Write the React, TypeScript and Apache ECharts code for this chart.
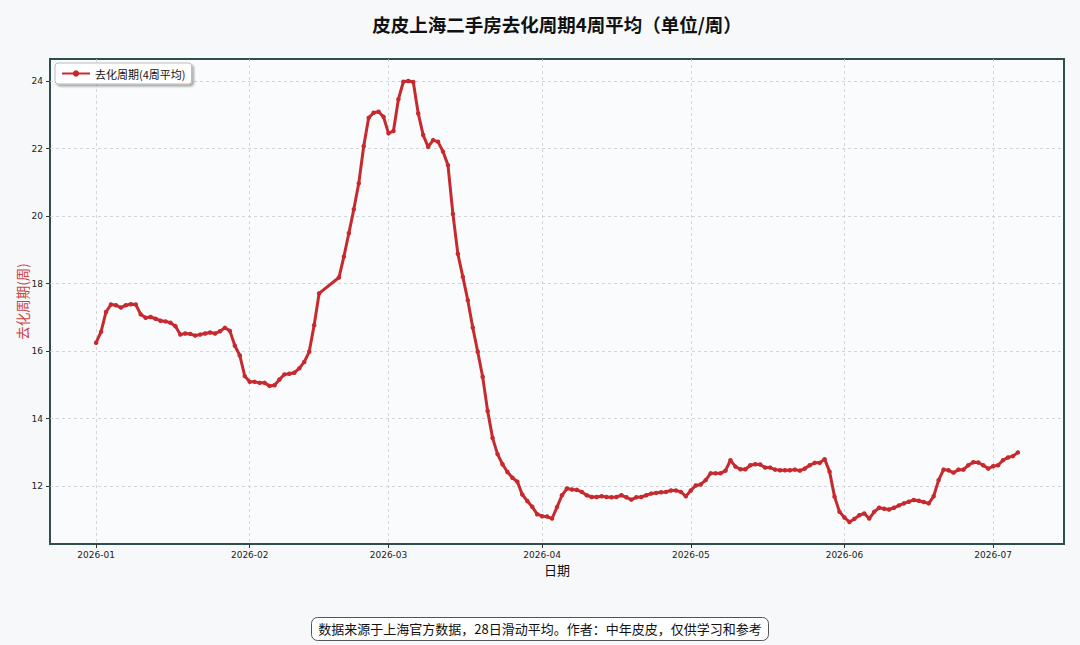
import React, { useEffect, useRef } from "react";
import * as echarts from "echarts";

const START_YEAR = 2026;
const START_MONTH = 0; // January
const START_DAY = 1;

// 4-week average digestion cycle (weeks), one value per day from 2026-01-01; null = no data
const values: (number | null)[] = [
  16.25, 16.57, 17.16, 17.38, 17.36, 17.29, 17.36, 17.39, 17.38, 17.09,
  16.99, 17.01, 16.96, 16.90, 16.88, 16.84, 16.74, 16.49, 16.52, 16.51,
  16.46, 16.49, 16.52, 16.55, 16.52, 16.59, 16.69, 16.60, 16.16, 15.87,
  15.26, 15.09, 15.09, 15.06, 15.06, 14.97, 14.99, 15.16, 15.31, 15.33,
  15.36, 15.49, 15.68, 15.98, 16.77, 17.71, null, null, null, 18.18,
  18.80, 19.49, 20.20, 20.97, 22.07, 22.91, 23.06, 23.09, 22.94, 22.45,
  22.52, 23.46, 23.98, 24.00, 23.97, 23.04, 22.40, 22.05, 22.25, 22.20,
  21.91, 21.51, 20.06, 18.88, 18.20, 17.51, 16.70, 15.98, 15.24, 14.23,
  13.43, 12.95, 12.65, 12.42, 12.25, 12.13, 11.75, 11.56, 11.39, 11.17,
  11.11, 11.10, 11.04, 11.38, 11.73, 11.93, 11.90, 11.89, 11.83, 11.73,
  11.68, 11.68, 11.70, 11.68, 11.67, 11.68, 11.73, 11.67, 11.60, 11.67,
  11.68, 11.73, 11.78, 11.80, 11.82, 11.83, 11.87, 11.87, 11.83, 11.70,
  11.87, 12.02, 12.05, 12.18, 12.38, 12.38, 12.38, 12.46, 12.77, 12.58,
  12.50, 12.50, 12.62, 12.65, 12.64, 12.55, 12.55, 12.49, 12.47, 12.47,
  12.47, 12.49, 12.46, 12.52, 12.62, 12.69, 12.69, 12.80, 12.43, 11.69,
  11.24, 11.07, 10.94, 11.03, 11.14, 11.19, 11.04, 11.24, 11.36, 11.33,
  11.31, 11.36, 11.43, 11.49, 11.54, 11.59, 11.57, 11.53, 11.49, 11.70,
  12.18, 12.49, 12.47, 12.40, 12.49, 12.49, 12.62, 12.71, 12.70, 12.62,
  12.52, 12.59, 12.62, 12.77, 12.85, 12.89, 13.00,
];

const seriesName = "去化周期(4周平均)";
const titleText = "皮皮上海二手房去化周期4周平均（单位/周）";
const footerText = "数据来源于上海官方数据，28日滑动平均。作者：中年皮皮，仅供学习和参考";
const xAxisName = "日期";
const yAxisName = "去化周期(周)";

const DAY = 86400000;
const FONT = "'DejaVu Sans', 'Noto Sans CJK SC', sans-serif";
const CJK = "'Noto Sans CJK SC', sans-serif";

export default function App() {
  const ref = useRef<HTMLDivElement>(null);

  useEffect(() => {
    if (!ref.current) return;
    const chart = echarts.init(ref.current, undefined, { renderer: "svg" });
    const t0 = new Date(START_YEAR, START_MONTH, START_DAY).getTime();
    const data: [number, number][] = [];
    values.forEach((v, i) => {
      if (v !== null) data.push([new Date(START_YEAR, START_MONTH, START_DAY + i).getTime(), v]);
    });
    const lastIdx = values.length - 1;
    const span = lastIdx * DAY;
    const xMin = t0 - span * 0.05;
    const xMax = t0 + span * 1.05;
    const nums = values.filter((v): v is number => v !== null);
    const vMin = Math.min(...nums);
    const vMax = Math.max(...nums);
    const yPad = (vMax - vMin) * 0.05;

    const gridLine = { color: "#c8cdd2", type: [3, 3], width: 0.8 };

    chart.setOption({
      animation: false,
      backgroundColor: "#f6f8f9",
      textStyle: { fontFamily: FONT },
      title: [
        {
          text: titleText,
          left: 552,
          top: 10,
          textAlign: "center",
          textStyle: { fontSize: 18.5, fontWeight: "bold", color: "#111", fontFamily: CJK },
        },
        {
          text: footerText,
          left: "center",
          top: 617,
          padding: [5, 7, 6, 7],
          backgroundColor: "#ffffff",
          borderColor: "#555",
          borderWidth: 1,
          borderRadius: 6,
          textStyle: { fontSize: 13, fontWeight: "normal", color: "#111", fontFamily: CJK },
        },
      ],
      legend: {
        left: 55,
        top: 63,
        padding: [5, 6, 5, 6],
        itemWidth: 28,
        itemHeight: 8,
        itemGap: 6,
        backgroundColor: "#ffffff",
        borderColor: "#bbbbbb",
        borderWidth: 1,
        borderRadius: 3,
        shadowColor: "rgba(0,0,0,0.35)",
        shadowBlur: 2,
        shadowOffsetX: 2,
        shadowOffsetY: 2,
        textStyle: { fontSize: 11, color: "#111", fontFamily: CJK },
        data: [seriesName],
      },
      grid: {
        left: 50,
        right: 16,
        top: 59,
        bottom: 101,
        containLabel: false,
        show: true,
        backgroundColor: "#fafbfc",
        borderColor: "#2f4f4f",
        borderWidth: 2,
      },
      xAxis: {
        type: "time",
        min: xMin,
        max: xMax,
        splitNumber: 6,
        minInterval: 28 * DAY,
        name: xAxisName,
        nameLocation: "middle",
        nameGap: 19,
        nameMoveOverlap: false,
        nameTextStyle: { fontSize: 13, color: "#111", fontFamily: CJK },
        axisLine: { show: false },
        axisTick: { show: true, length: 4, lineStyle: { color: "#333" } },
        axisLabel: {
          fontSize: 9,
          color: "#222",
          margin: 6,
          showMinLabel: false,
          showMaxLabel: false,
          formatter: (val: number) => {
            const d = new Date(val);
            return `${d.getFullYear()}-${String(d.getMonth() + 1).padStart(2, "0")}`;
          },
        },
        splitLine: { show: true, showMinLine: false, showMaxLine: false, lineStyle: gridLine },
      },
      yAxis: {
        type: "value",
        min: vMin - yPad,
        max: vMax + yPad,
        splitNumber: 7,
        name: yAxisName,
        nameLocation: "middle",
        nameGap: 21,
        nameMoveOverlap: false,
        nameRotate: 90,
        nameTextStyle: { fontSize: 13.5, color: "#cc4444", fontFamily: CJK },
        axisLine: { show: false },
        axisTick: { show: true, length: 4, lineStyle: { color: "#333" } },
        axisLabel: { fontSize: 9, color: "#222", margin: 7, showMinLabel: false, showMaxLabel: false },
        splitLine: { show: true, showMinLine: false, showMaxLine: false, lineStyle: gridLine },
      },
      series: [
        {
          name: seriesName,
          type: "line",
          data,
          showSymbol: true,
          symbol: "circle",
          symbolSize: 4.5,
          connectNulls: true,
          lineStyle: { color: "#c62a2f", width: 3 },
          itemStyle: { color: "#c62a2f" },
          emphasis: { disabled: true },
        },
      ],
    });
    return () => chart.dispose();
  }, []);

  return (
    <div
      ref={ref}
      style={{ position: "fixed", left: 0, top: 0, width: 1080, height: 645, background: "#f6f8f9" }}
    />
  );
}
